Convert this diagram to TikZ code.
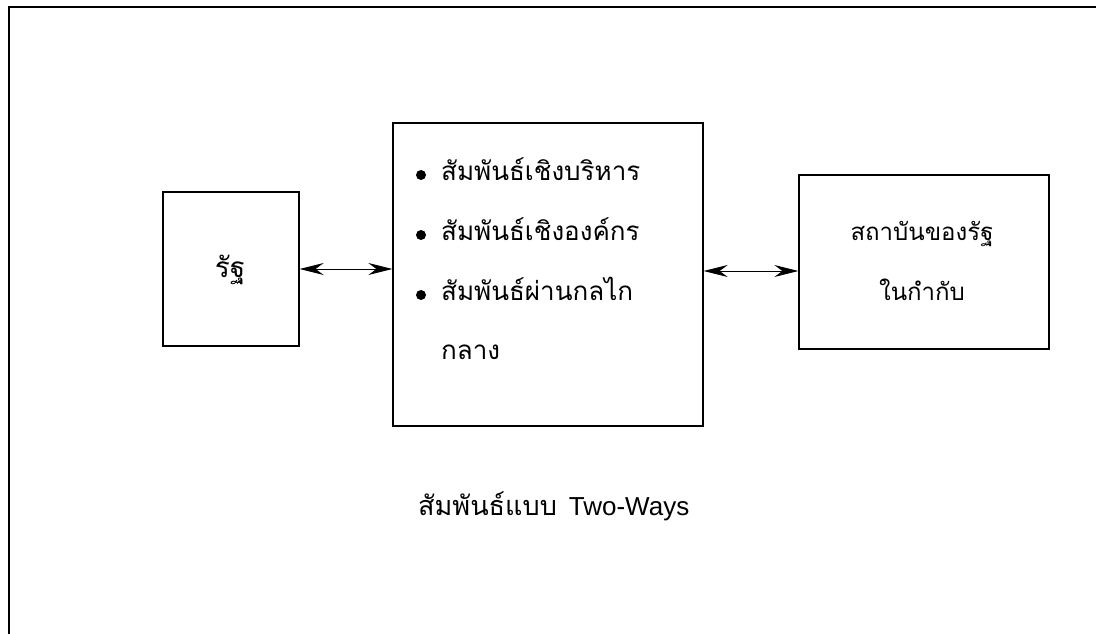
\documentclass[tikz,border=0pt]{standalone}
\usepackage{fontspec}
\newfontfamily\thaifont[Script=Thai]{Loma}
\newfontfamily\latinfont{Liberation Sans}
\usetikzlibrary{arrows.meta,calc}
\begin{document}
\begin{tikzpicture}[x=1pt,y=-1pt,
  box/.style={draw,line width=1.3pt,inner sep=0pt},
  txt/.style={font=\thaifont\fontsize{26}{30}\selectfont,inner sep=0pt},
  rtxt/.style={font=\thaifont\fontsize{24}{28}\selectfont,inner sep=0pt},
  link/.style={line width=1pt,{Stealth[length=24pt,width=12pt,inset=8pt]}-{Stealth[length=24pt,width=12pt,inset=8pt]}}]
\useasboundingbox (0,0) rectangle (1096,634);
\draw[line width=2.8pt] (9,640) -- (9,7) -- (1100,7);
\node[box,minimum width=136pt,minimum height=154pt] (state) at (231,269) {};
\node[box,minimum width=310pt,minimum height=303pt] (mid) at (548,274.5) {};
\node[box,minimum width=250pt,minimum height=174pt] (inst) at (924,262) {};
\node[txt,font=\thaifont\fontsize{28}{30}\selectfont,anchor=base] (tstate) at (230,277) {รัฐ};
\node[txt,anchor=base west] (l1) at (441,180) {สัมพันธ์เชิงบริหาร};
\node[txt,anchor=base west] (l2) at (441,240) {สัมพันธ์เชิงองค์กร};
\node[txt,anchor=base west] (l3) at (441,300) {สัมพันธ์ผ่านกลไก};
\node[txt,anchor=base west] (l4) at (441,359) {กลาง};
\foreach \n in {l1,l2,l3} \fill ($(\n.base west)+(-20,-5)$) circle (5pt);
\node[rtxt,anchor=base] (i1) at (922,240) {สถาบันของรัฐ};
\node[rtxt,anchor=base] (i2) at (922,300) {ในกำกับ};
\node[txt,font=\thaifont\fontsize{27}{30}\selectfont,anchor=base west] (cap) at (418,515) {สัมพันธ์แบบ\hspace{12pt}{\latinfont\fontsize{26}{28}\selectfont Two-Ways}};
\draw[link] (state.east |- 0,269) -- (mid.west |- 0,269);
\draw[link] (mid.east |- 0,271) -- (inst.west |- 0,271);
\end{tikzpicture}
\end{document}
